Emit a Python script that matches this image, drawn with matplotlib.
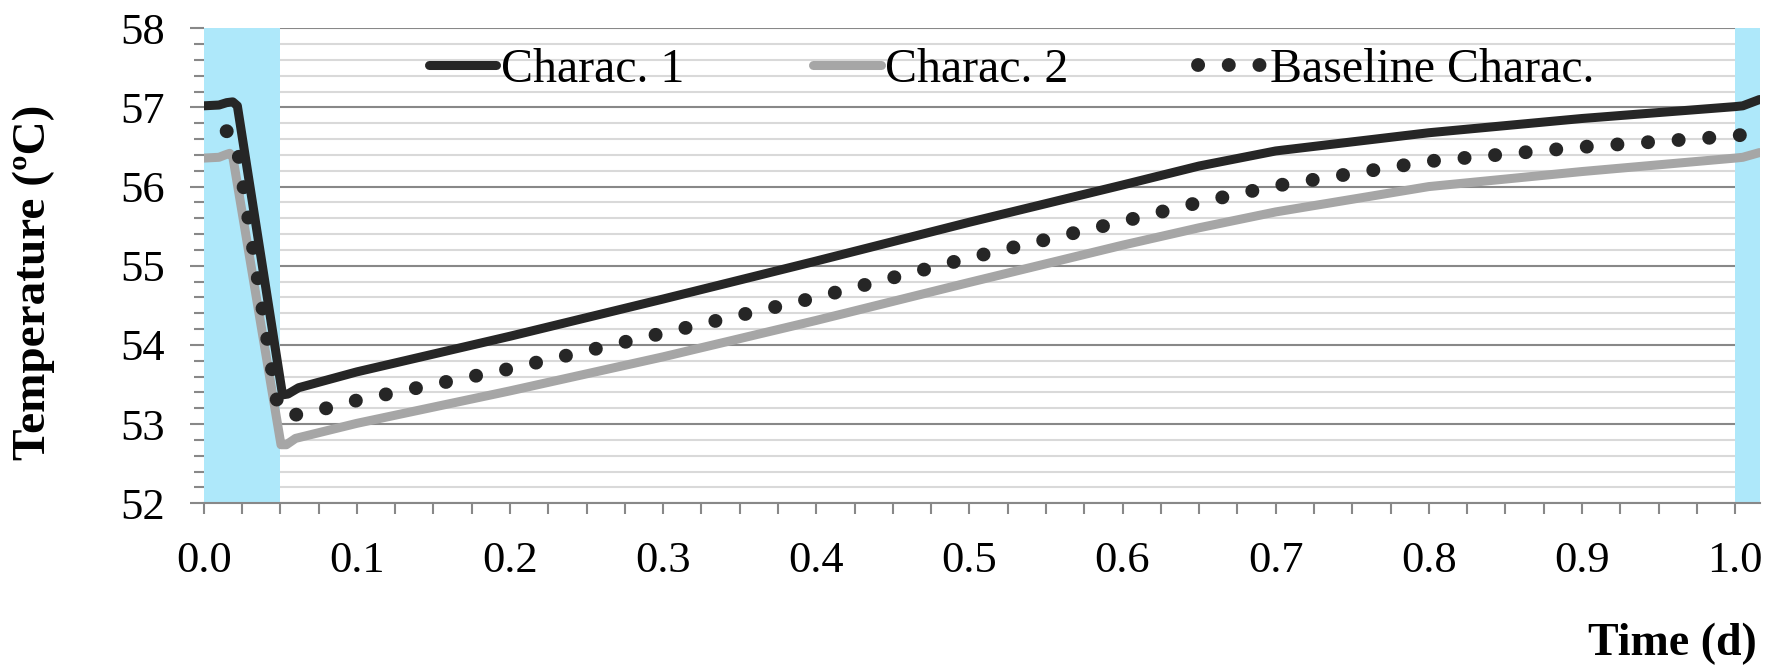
import matplotlib.pyplot as plt
from matplotlib.ticker import MultipleLocator
import numpy as np

# Daten
t_c1 = [0.0, 0.01, 0.015, 0.019, 0.022, 0.0515, 0.055, 0.062, 0.1, 0.2, 0.3, 0.4, 0.5,
        0.6, 0.65, 0.7, 0.8, 0.9, 1.0, 1.005, 1.016]
T_c1 = [57.02, 57.03, 57.06, 57.07, 57.02, 53.37, 53.38, 53.46, 53.66, 54.11, 54.58, 55.06,
        55.55, 56.02, 56.26, 56.45, 56.68, 56.86, 57.01, 57.02, 57.1]

t_c2 = [0.0, 0.01, 0.014, 0.017, 0.019, 0.0505, 0.054, 0.06, 0.1, 0.2, 0.3, 0.4, 0.5,
        0.6, 0.65, 0.7, 0.8, 0.9, 1.0, 1.005, 1.016]
T_c2 = [56.36, 56.37, 56.4, 56.42, 56.38, 52.74, 52.74, 52.82, 53.01, 53.42, 53.85, 54.31,
        54.79, 55.26, 55.48, 55.68, 56.0, 56.19, 56.36, 56.37, 56.43]

t_base = [0.015, 0.021, 0.049, 0.056, 0.064, 0.08, 0.1, 0.2, 0.3, 0.4, 0.5, 0.6, 0.65,
          0.7, 0.8, 0.9, 1.0, 1.016]
T_base = [56.7, 56.62, 53.15, 53.12, 53.12, 53.2, 53.3, 53.7, 54.15, 54.6, 55.1, 55.56,
          55.8, 56.01, 56.32, 56.5, 56.64, 56.69]

# Pausen (blau hinterlegt)
pausen = [(0.0, 0.05), (1.0, 1.02)]

plt.rcParams['font.family'] = ['Liberation Serif', 'DejaVu Serif']

fig = plt.figure(figsize=(17.71, 6.72), dpi=100)
ax = fig.add_axes([0.115, 0.251, 0.994 - 0.115, 0.958 - 0.251])

ax.set_xlim(0.0, 1.0165)
ax.set_ylim(52, 58)

for a, b in pausen:
    ax.axvspan(a, b, color='#aee8fa', lw=0, zorder=1)

# Linien
ax.plot(t_c1, T_c1, color='#262626', lw=6.5, solid_capstyle='round',
        solid_joinstyle='round', label='Charac. 1', zorder=4)
ax.plot(t_c2, T_c2, color='#a6a6a6', lw=6.5, solid_capstyle='round',
        solid_joinstyle='round', label='Charac. 2', zorder=3)
ax.plot(t_base, T_base, color='#262626', lw=10, linestyle=(0, (0.01, 2.2)),
        dash_capstyle='round', label='Baseline Charac.', zorder=5)

# Achsen / Gitter
ax.yaxis.set_major_locator(MultipleLocator(1))
ax.yaxis.set_minor_locator(MultipleLocator(0.2))
ax.xaxis.set_major_locator(MultipleLocator(0.1))
ax.xaxis.set_minor_locator(MultipleLocator(0.025))
ax.grid(axis='y', which='major', color='#888888', lw=1.5, zorder=0.5)
ax.grid(axis='y', which='minor', color='#d9d9d9', lw=1.5, zorder=0.4)
ax.set_axisbelow(True)

for s in ['left', 'right', 'top']:
    ax.spines[s].set_visible(False)
ax.spines['bottom'].set_color('#888888')
ax.spines['bottom'].set_linewidth(1.5)

ax.tick_params(axis='y', which='major', length=10, width=1.5, color='#888888',
               labelsize=32, pad=18)
ax.tick_params(axis='y', which='minor', length=7, width=1.5, color='#888888')
ax.tick_params(axis='x', which='both', length=8, width=1.5, color='#888888',
               labelsize=32, pad=19)
ax.set_xticks(np.arange(0, 1.01, 0.1))
ax.set_xticklabels([f"{v:.1f}" for v in np.arange(0, 1.01, 0.1)])

fig.text(34 / 1771, 0.58, 'Temperature (ºC)', rotation=90, ha='center', va='center',
         fontsize=34, fontweight='bold')
fig.text(0.992, 0.042, 'Time (d)', ha='right', va='center', fontsize=33,
         fontweight='bold')

ax.legend(loc='center', bbox_to_anchor=(0.519, 0.912), ncol=3, frameon=False,
          fontsize=34.5, handlelength=1.4, handletextpad=0.1, columnspacing=2.7)

fig.savefig('out.png', dpi=100)
